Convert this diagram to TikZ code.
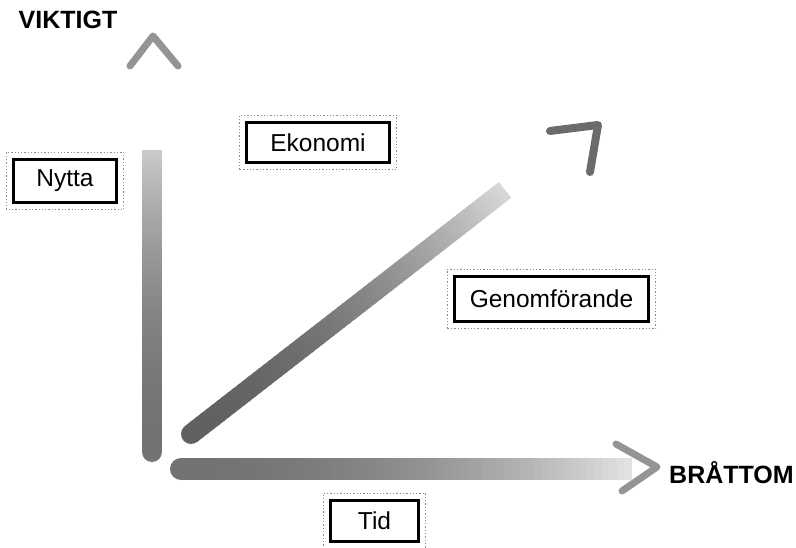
\documentclass[tikz,border=0pt]{standalone}
\usepackage{fontspec}
\setmainfont{Liberation Sans}
\usetikzlibrary{calc}
\begin{document}
\begin{tikzpicture}[x=1pt,y=-1pt,
  lbl/.style={draw=black, line width=2.6pt, fill=white, inner sep=0pt,
    font=\fontsize{24.5}{28}\selectfont},
  axislbl/.style={inner sep=0pt, font=\fontsize{25}{28}\selectfont\bfseries},
  head/.style={line width=7pt, draw=black!42, line join=round, line cap=round},
  halo/.style={draw=black!45, dotted, line width=1.3pt}]
\fill[white] (0,0) rectangle (796,548);
\useasboundingbox (0,0) rectangle (796,548);

% axis / diagonal shafts with fading
\coordinate (v0) at (152,452);
\coordinate (v1) at (152,150);
\coordinate (h0) at (181,469);
\coordinate (h1) at (632,469);
\coordinate (d0) at (191,434);
\coordinate (d1) at (505,190);
\foreach \p/\q/\w/\s/\f in {v0/v1/20/55/35, h0/h1/22/55/45, d0/d1/20/62/48}{
  \fill[black!\s] (\p) circle ({\w/2});
  \foreach \i in {0,...,59}{
    \pgfmathsetmacro\a{\i/60}
    \pgfmathsetmacro\b{min(1,(\i+1.3)/60)}
    \pgfmathsetmacro\c{\s-\f*\a^2}
    \draw[line width=\w pt, draw=black!\c] ($(\p)!\a!(\q)$) -- ($(\p)!\b!(\q)$);
  }
}

% arrowheads
\coordinate (ua) at (130,66);
\coordinate (ub) at (153,36);
\coordinate (uc) at (178,66);
\draw[head] (ua) -- (ub) -- (uc);
\coordinate (ra) at (616,444);
\coordinate (rb) at (657,467);
\coordinate (rc) at (622,491);
\draw[head] (ra) -- (rb) -- (rc);
\coordinate (da) at (550,131);
\coordinate (db) at (598,125);
\coordinate (dc) at (590,172);
\draw[head, line width=8pt, draw=black!58] (da) -- (db) -- (dc);

% axis labels
\node[axislbl] (viktigt) at (68,20) {VIKTIGT};
\node[axislbl, anchor=west] (brattom) at (669,473) {BRÅTTOM};

% boxes
\node[lbl, minimum width=103pt, minimum height=43pt] (nytta) at (65,181) {Nytta};
\node[lbl, minimum width=143pt, minimum height=40pt] (ekonomi) at (318,142.5) {Ekonomi};
\node[lbl, minimum width=194pt, minimum height=45pt] (genom) at (551.5,299) {Genomförande};
\node[lbl, minimum width=88pt, minimum height=41pt] (tid) at (374.5,521) {Tid};

\foreach \n in {nytta,ekonomi,genom,tid}{
  \draw[halo] ($(\n.south west)+(-6,6)$) rectangle ($(\n.north east)+(6,-6)$);
}
\end{tikzpicture}
\end{document}
